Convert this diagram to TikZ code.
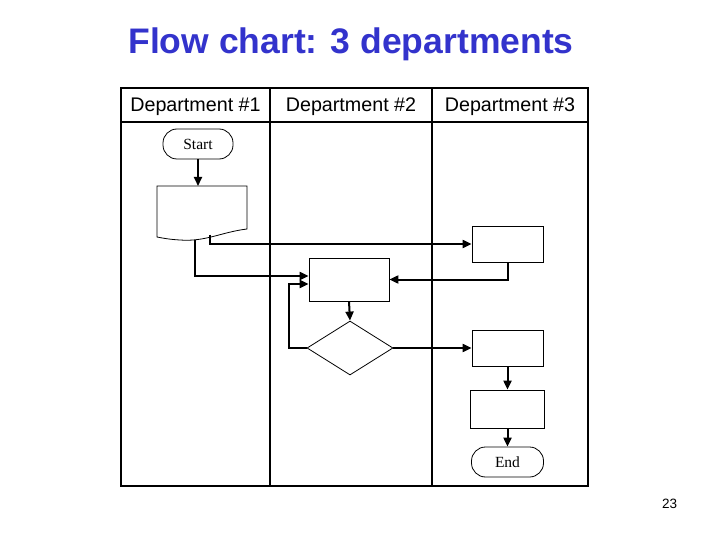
\documentclass[tikz,border=0pt]{standalone}
\usepackage{fontspec}
\setmainfont{Liberation Sans}
\newfontfamily\serifx{Liberation Serif}
\usetikzlibrary{shapes.geometric,arrows.meta,calc}
\definecolor{titleblue}{RGB}{51,51,204}
\begin{document}
\begin{tikzpicture}[x=1pt,y=-1pt,
  frame/.style={line width=2.8pt},
  shp/.style={draw,line width=0.8pt,inner sep=0pt},
  boxx/.style={shp,rectangle},
  term/.style={shp,rounded corners=14pt,font=\serifx\fontsize{15.5}{17}\selectfont},
  conn/.style={line width=2pt,-{Triangle[length=9pt,width=8pt]}},
  hdr/.style={font=\fontsize{19.7}{22}\selectfont}]
\useasboundingbox (0,0) rectangle (720,540);
\node[text=titleblue,font=\bfseries\fontsize{35.5}{40}\selectfont] (title) at (351,44) {Flow chart: 3 departments};
% frame
\draw[frame] (121,88) rectangle (588,486);
\draw[line width=2.2pt] (121,122) -- (588,122);
\draw[frame] (270,88) -- (270,486);
\draw[frame] (432,88) -- (432,486);
\node[hdr] (h1) at (195.5,106.5) {Department \#1};
\node[hdr] (h2) at (351,106.5) {Department \#2};
\node[hdr] (h3) at (510,106.5) {Department \#3};
% shapes
\node[term,minimum width=70pt,minimum height=30pt] (start) at (198,144) {Start};
\draw[line width=0.8pt] (157,186) -- (247,186) -- (247,229)
  .. controls (222,232) and (205,242) .. (180,240)
  .. controls (170,239.5) and (162,238) .. (157,237) -- cycle;
\coordinate (doctop) at (198,186);
\coordinate (d1) at (210,234.5);
\coordinate (d2) at (195,239.5);
\node[boxx,minimum width=71pt,minimum height=36pt] (b3a) at (507.5,244) {};
\node[boxx,minimum width=80pt,minimum height=43pt] (b2a) at (349,279.5) {};
\node[shp,diamond,minimum width=86pt,minimum height=54pt] (dia) at (350,348) {};
\node[boxx,minimum width=71pt,minimum height=36pt] (b3b) at (507.5,348) {};
\node[boxx,minimum width=74pt,minimum height=38pt] (b3c) at (507.5,409) {};
\node[term,minimum width=72pt,minimum height=30pt] (end) at (507.5,462) {End};
\node[font=\fontsize{13.5}{15}\selectfont] (pg) at (669.5,504) {23};
% connectors
\draw[conn] (start.south) -- (doctop);
\draw[conn] (d1) |- (b3a.west);
\draw[conn] (d2) |- ([yshift=3.5pt]b2a.west);
\draw[conn] (b3a.south) |- (b2a.east);
\draw[conn] (b2a.south) -- (dia.north);
\draw[conn] (dia.west) -- ++(-18,0) |- ([yshift=-4.5pt]b2a.west);
\draw[conn] (dia.east) -- (b3b.west);
\draw[conn] (b3b.south) -- (b3c.north);
\draw[conn] (b3c.south) -- (end.north);
\end{tikzpicture}
\end{document}
